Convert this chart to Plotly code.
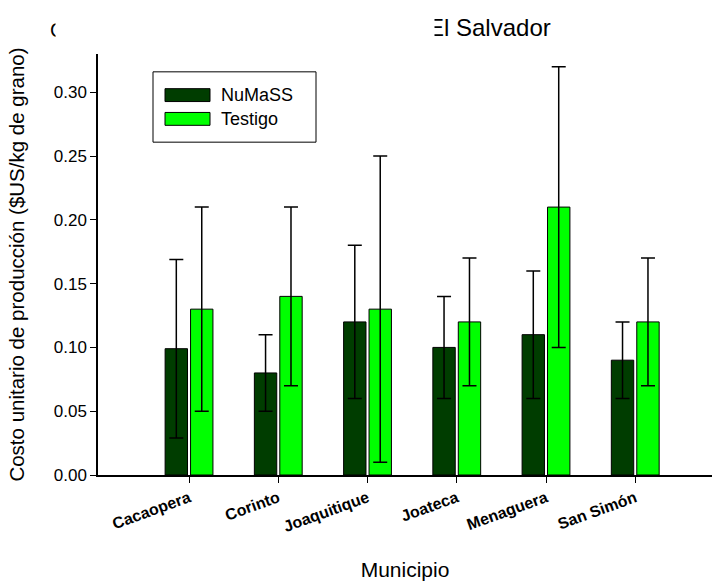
import plotly.graph_objects as go

municipios = ["Cacaopera", "Corinto", "Joaquitique", "Joateca", "Menaguera", "San Simón"]
numass = [0.099, 0.08, 0.12, 0.10, 0.11, 0.09]
numass_err = [0.07, 0.03, 0.06, 0.04, 0.05, 0.03]
testigo = [0.13, 0.14, 0.13, 0.12, 0.21, 0.12]
testigo_err = [0.08, 0.07, 0.12, 0.05, 0.11, 0.05]
yticks = [0.00, 0.05, 0.10, 0.15, 0.20, 0.25, 0.30]
series_names = ["NuMaSS", "Testigo"]
series_colors = ["#003d00", "#00ff00"]

xpos = list(range(len(municipios)))
FONT = "Liberation Sans, Arial, sans-serif"

W, H = 720, 586
ML, MR, MT, MB = 98, 8, 54, 107
PW, PH = W - ML - MR, H - MT - MB


def px(x):
    return (x - ML) / PW


def py(y):
    return (H - MB - y) / PH


fig = go.Figure()
for name, vals, errs, col in zip(series_names, [numass, testigo],
                                 [numass_err, testigo_err], series_colors):
    fig.add_trace(go.Bar(
        x=xpos, y=vals, name=name, showlegend=False,
        marker=dict(color=col, line=dict(color="black", width=1)),
        error_y=dict(type="data", array=errs, visible=True,
                     color="black", thickness=1.5, width=7),
    ))

shapes = [
    # legend box
    dict(type="rect", xref="paper", yref="paper",
         x0=px(153), x1=px(316), y0=py(143), y1=py(72),
         line=dict(color="black", width=1), fillcolor="white", layer="above"),
]
annotations = []
for i, (name, col) in enumerate(zip(series_names, series_colors)):
    y0 = 89 + i * 24
    shapes.append(dict(type="rect", xref="paper", yref="paper",
                       x0=px(165), x1=px(210), y0=py(y0 + 13), y1=py(y0),
                       line=dict(color="black", width=1), fillcolor=col,
                       layer="above"))
    annotations.append(dict(text=name, x=px(219), y=py(y0 + 6.5),
                            xref="paper", yref="paper", xanchor="left",
                            yanchor="middle", showarrow=False,
                            font=dict(size=18)))

annotations += [
    dict(text="El Salvador", x=px(553), y=py(27), xref="paper", yref="paper",
         xanchor="right", yanchor="middle", showarrow=False,
         font=dict(size=24)),
    dict(text="C", x=px(48), y=py(30), xref="paper", yref="paper",
         xanchor="left", yanchor="middle", showarrow=False,
         font=dict(size=20)),
    # white covers hiding part of the title (as in the original)
    dict(text=" ", x=px(435), y=py(27), xref="paper", yref="paper",
         xanchor="right", yanchor="middle", showarrow=False,
         width=40, height=30, bgcolor="white", borderpad=0),
    dict(text=" ", x=px(55), y=py(30), xref="paper", yref="paper",
         xanchor="left", yanchor="middle", showarrow=False,
         width=20, height=28, bgcolor="white", borderpad=0),
]

fig.update_layout(
    width=W, height=H,
    margin=dict(l=ML, r=MR, t=MT, b=MB),
    paper_bgcolor="white", plot_bgcolor="white",
    barmode="group", bargap=0.43, bargroupgap=0.12,
    font=dict(family=FONT, color="black", size=17),
    showlegend=False,
    xaxis=dict(
        range=[-1.02, 5.86], tickmode="array", tickvals=xpos,
        ticktext=[f"<b>{m}</b>" for m in municipios],
        tickangle=-20, tickfont=dict(size=16, family=FONT),
        showline=True, linecolor="black", linewidth=1.5,
        ticks="outside", ticklen=6, tickcolor="black",
        showgrid=False, zeroline=False,
        title=dict(text="Municipio", font=dict(size=21), standoff=28),
    ),
    yaxis=dict(
        range=[0, 0.33], tickmode="array", tickvals=yticks,
        ticktext=[f"{v:.2f}" for v in yticks],
        tickfont=dict(size=17),
        showline=True, linecolor="black", linewidth=1.5,
        ticks="outside", ticklen=6, tickcolor="black",
        showgrid=False, zeroline=False,
        title=dict(text="Costo unitario de producción ($US/kg de grano)",
                   font=dict(size=20.5), standoff=24),
    ),
    shapes=shapes,
    annotations=annotations,
)

fig.write_html("out.html")
